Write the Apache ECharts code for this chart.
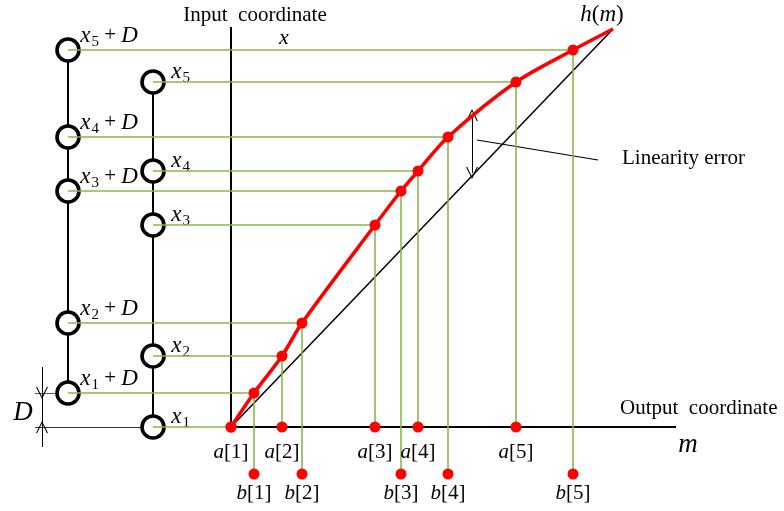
<!DOCTYPE html>
<html><head><meta charset="utf-8">
<script src="https://cdn.jsdelivr.net/npm/echarts@6/dist/echarts.min.js"></script>
<style>html,body{margin:0;padding:0;background:#fff}#c{width:784px;height:511px}</style>
</head><body><div id="c"></div>
<script>
// ---- data (chart units: output m to the right, input x upward) ----
const idx = ['1', '2', '3', '4', '5'];
const aPos = [0, 51, 144, 187, 285];        // a[i] on output axis
const bPos = [23, 71, 170, 217, 342];       // b[i] on output axis
const xLevel = [0, 71, 202, 256, 345];      // x_i
const xDLevel = [34, 104, 236, 290, 377];   // x_i + D
const curveEnd = [382, 398];                // end of h(m)
const D = 34;
const colX = -78;        // column of x_i sensors
const colXD = -163;      // column of x_i + D sensors
const bRow = -47;        // row of b[i] markers
const xAxisEnd = 445;
const yAxisTop = 400;
const dimX = -189;       // D dimension line
const leftExt = -196;
const errM = 241, errTop = 312, errBot = 254;
const leader = [[246, 287], [367, 267]];

const FONT = "'Liberation Serif','Times New Roman',serif";
const GREEN = '#8ab64e';
const INK = '#000';

// curve points
const curve = [];
for (let i = 0; i < 5; i++) {
  curve.push([aPos[i], xLevel[i]]);
  curve.push([bPos[i], xDLevel[i]]);
}
curve.push({ value: curveEnd, symbol: 'none' });

const greenLines = [];
for (let i = 0; i < 5; i++) {
  greenLines.push({ coords: [[colX, xLevel[i]], [aPos[i], xLevel[i]]] });
  greenLines.push({ coords: [[colXD, xDLevel[i]], [bPos[i], xDLevel[i]]] });
  greenLines.push({ coords: [[aPos[i], xLevel[i]], [aPos[i], 0]] });
  greenLines.push({ coords: [[bPos[i], xDLevel[i]], [bPos[i], bRow]] });
}

const blackLines = [
  { coords: [[0, 0], [xAxisEnd, 0]], lineStyle: { width: 2 } },
  { coords: [[0, 0], [0, yAxisTop]], lineStyle: { width: 2 } },
  { coords: [[leftExt, 0], [colX, 0]], lineStyle: { width: 1.2, color: '#333' } },
  { coords: [[leftExt, D], [colXD, D]], lineStyle: { width: 1.2, color: '#555' } },
  { coords: [[0, 0], curveEnd], lineStyle: { width: 1.5 } },
  { coords: [[colX, 0], [colX, xLevel[4]]], lineStyle: { width: 2 } },
  { coords: [[colXD, xDLevel[0]], [colXD, xDLevel[4]]], lineStyle: { width: 2 } },
  { coords: [[dimX, D + 26], [dimX, -20]], lineStyle: { width: 1 } },
  { coords: leader, lineStyle: { width: 1.2 } }
];

const errMid = (errTop + errBot) / 2;
const arrowLines = [
  { coords: [[dimX, D + 20], [dimX, D]] },
  { coords: [[dimX, -14], [dimX, 0]] },
  { coords: [[errM, errMid], [errM, errTop]] },
  { coords: [[errM, errMid], [errM, errBot]] }
];
const chevron = 'path://M0,12 L5,0 L10,12 L9,12 L5,2.2 L1,12 Z';

const sub = { fontFamily: FONT, fontSize: 15, color: INK, padding: [12, 0, 0, 1] };
const ital = { fontFamily: FONT, fontSize: 23, fontStyle: 'italic', color: INK };
const norm = { fontFamily: FONT, fontSize: 21, color: INK };

const circles = [];
for (let i = 0; i < 5; i++) {
  circles.push({
    value: [colX, xLevel[i]],
    label: { show: true, position: [31, -11], formatter: '{i|x}{s|' + idx[i] + '}' }
  });
  circles.push({
    value: [colXD, xDLevel[i]],
    label: { show: true, position: [25, -15], formatter: '{i|x}{s|' + idx[i] + '}{n| + }{i|D}' }
  });
}

const abLabel = (ch, k) => '{i|' + ch + '}{n|[' + k + ']}';
const abRich = {
  i: { fontFamily: FONT, fontSize: 21, fontStyle: 'italic', color: INK },
  n: { fontFamily: FONT, fontSize: 21, color: INK }
};

const texts = [
  { value: [24, 412], t: 'Input  coordinate', style: norm },
  { value: [53, 389], t: 'x', style: Object.assign({}, ital, { fontSize: 22 }) },
  { value: [371, 412], t: '{i|h}{n|(}{i|m}{n|)}', rich: true },
  { value: [391, 269], t: 'Linearity error', style: norm, left: true },
  { value: [389, 19], t: 'Output  coordinate', style: norm, left: true },
  { value: [457, -18], t: 'm', style: Object.assign({}, ital, { fontSize: 27 }) },
  { value: [-208, 14], t: 'D', style: Object.assign({}, ital, { fontSize: 27 }) }
];

const chart = echarts.init(document.getElementById('c'));
chart.setOption({
  animation: false,
  backgroundColor: '#fff',
  grid: { left: 0, right: 0, top: 0, bottom: 0 },
  xAxis: { type: 'value', min: -231, max: 553, show: false },
  yAxis: { type: 'value', min: -84, max: 427, show: false },
  series: [
    { type: 'lines', coordinateSystem: 'cartesian2d', z: 1, silent: true,
      lineStyle: { color: '#000', width: 2, opacity: 1 }, data: blackLines },
    { type: 'scatter', z: 2, symbol: 'circle', symbolSize: 22,
      itemStyle: { color: '#fff', borderColor: '#000', borderWidth: 3.6, opacity: 1 },
      label: { rich: { i: ital, s: sub, n: norm } },
      data: circles },
    { type: 'lines', coordinateSystem: 'cartesian2d', z: 3, silent: true,
      lineStyle: { color: GREEN, width: 1.6, opacity: 1 }, data: greenLines },
    { type: 'lines', coordinateSystem: 'cartesian2d', z: 3, silent: true,
      symbol: ['none', chevron], symbolSize: [7, 12],
      lineStyle: { color: '#000', width: 1, opacity: 1 }, data: arrowLines },
    { type: 'line', z: 4, smooth: 0.3, symbol: 'circle', symbolSize: 11,
      itemStyle: { color: '#ff0000', opacity: 1 }, lineStyle: { color: '#ff0000', width: 3.6 },
      data: curve },
    { type: 'scatter', z: 5, symbol: 'circle', symbolSize: 11, itemStyle: { color: '#ff0000', opacity: 1 },
      data: aPos.map((v, i) => ({ value: [v, 0],
        label: { show: true, position: 'bottom', distance: 9, formatter: abLabel('a', idx[i]), rich: abRich } })) },
    { type: 'scatter', z: 5, symbol: 'circle', symbolSize: 11, itemStyle: { color: '#ff0000', opacity: 1 },
      data: bPos.map((v, i) => ({ value: [v, bRow],
        label: { show: true, position: 'bottom', distance: 3, formatter: abLabel('b', idx[i]), rich: abRich } })) },
    { type: 'scatter', z: 6, symbolSize: 0, silent: true, itemStyle: { opacity: 1 },
      data: texts.map(o => ({ value: o.value,
        label: o.rich ? { show: true, position: 'inside', formatter: o.t,
            rich: { i: Object.assign({}, ital, { fontSize: 23 }), n: Object.assign({}, norm, { fontSize: 23 }) } }
          : { show: true, position: o.left ? 'right' : 'inside', distance: 0, formatter: o.t,
            fontFamily: o.style.fontFamily, fontSize: o.style.fontSize, fontStyle: o.style.fontStyle || 'normal', color: INK } })) }
  ]
});
</script></body></html>
